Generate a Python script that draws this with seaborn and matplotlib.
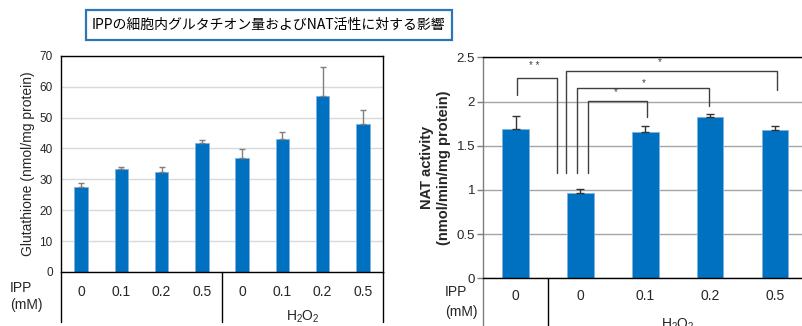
import matplotlib
matplotlib.use("Agg")
import matplotlib.pyplot as plt
import matplotlib.transforms as mtransforms
from matplotlib.patches import Rectangle
import seaborn as sns
import pandas as pd

# ---- data ----
title = "IPPの細胞内グルタチオン量およびNAT活性に対する影響"

gsh_conditions = ["c0", "c0.1", "c0.2", "c0.5", "h0", "h0.1", "h0.2", "h0.5"]
gsh_ipp_labels = ["0", "0.1", "0.2", "0.5", "0", "0.1", "0.2", "0.5"]
gsh_mean = [27.4, 33.2, 32.3, 41.7, 36.9, 43.0, 56.9, 47.9]
gsh_sd = [1.4, 0.9, 1.8, 1.0, 2.8, 2.4, 9.3, 4.5]

nat_conditions = ["c0", "h0", "h0.1", "h0.2", "h0.5"]
nat_ipp_labels = ["0", "0", "0.1", "0.2", "0.5"]
nat_mean = [1.69, 0.96, 1.655, 1.82, 1.675]
nat_sd = [0.15, 0.05, 0.065, 0.04, 0.045]

# significance brackets: (x_left, y_left_end, x_right, y_right_end, y_top, label, label_x, label_y)
nat_brackets = [
    (0.02, 2.07, 0.63, 1.19, 2.27, "* *", 0.29, 2.40),
    (0.78, 1.19, 4.04, 2.13, 2.345, "*", 2.22, 2.45),
    (0.94, 1.19, 2.98, 1.95, 2.156, "*", 1.98, 2.21),
    (1.11, 1.19, 2.03, 1.82, 2.006, "*", 1.54, 2.11),
]

BAR = "#0070C0"
BAR_EDGE = "#7FB2DE"

sns.set_theme(style="white")
plt.rcParams["font.family"] = ["Liberation Sans", "DejaVu Sans"]
plt.rcParams["mathtext.default"] = "regular"

W, H = 802, 326
fig = plt.figure(figsize=(W / 100, H / 100), dpi=100)


def fig_rect(x0, y_top, x1, y_bottom):
    return [x0 / W, 1 - y_bottom / H, (x1 - x0) / W, (y_bottom - y_top) / H]


# ---- title box ----
fig.patches.append(Rectangle((86 / W, 1 - 40 / H), (452 - 86) / W, 30 / H,
                             transform=fig.transFigure, fill=False,
                             edgecolor="#2E75B6", linewidth=1.6))
fig.text(268 / W, 1 - 25 / H, title, ha="center", va="center", fontsize=10,
         family=["Noto Sans CJK JP", "DejaVu Sans"], color="black")

# ---- left: glutathione ----
ax1 = fig.add_axes(fig_rect(61, 55.7, 383, 272))
df1 = pd.DataFrame({"cond": gsh_conditions, "val": gsh_mean})
sns.barplot(data=df1, x="cond", y="val", color=BAR, width=0.33, saturation=1,
            edgecolor=BAR_EDGE, linewidth=0.6, errorbar=None, ax=ax1, zorder=2)
ax1.errorbar(range(len(gsh_mean)), gsh_mean, yerr=[[0] * len(gsh_sd), gsh_sd],
             fmt="none", ecolor="#7f7f7f", elinewidth=1.0, capsize=2.4,
             capthick=1.0, zorder=3)
ax1.set_xlim(-0.5, 7.5)
ax1.set_ylim(0, 70)
ax1.set_yticks(range(0, 71, 10))
ax1.yaxis.grid(True, color="#d9d9d9", linewidth=1.0)
ax1.set_axisbelow(True)
ax1.set_xticks(range(len(gsh_ipp_labels)), gsh_ipp_labels)
ax1.tick_params(axis="x", length=0, pad=9, labelsize=10)
ax1.tick_params(axis="y", length=0, pad=6, labelsize=8.5)
ax1.set_xlabel("")
ax1.set_ylabel("Glutathione (nmol/mg protein)", fontsize=10, labelpad=3)
for s in ax1.spines.values():
    s.set_color("black")
    s.set_linewidth(1.0)

tr1 = mtransforms.blended_transform_factory(ax1.transData, ax1.transAxes)
for xv in (-0.5, 3.5, 7.5):
    ax1.plot([xv, xv], [0, -0.23], color="black", lw=1.0, transform=tr1, clip_on=False)
ax1.text(5.5, -0.205, r"H$_2$O$_2$", transform=tr1, ha="center", va="center", fontsize=10)
fig.text(10 / W, 1 - 288 / H, "IPP", ha="left", va="center", fontsize=10)
fig.text(10 / W, 1 - 305 / H, "(mM)", ha="left", va="center", fontsize=10)

# ---- right: NAT activity ----
ax2 = fig.add_axes(fig_rect(483.3, 57.3, 483.3 + 5 * 64.8, 278.3))
df2 = pd.DataFrame({"cond": nat_conditions, "val": nat_mean})
sns.barplot(data=df2, x="cond", y="val", color=BAR, width=0.41, saturation=1,
            edgecolor=BAR_EDGE, linewidth=0.6, errorbar=None, ax=ax2, zorder=2)
ax2.errorbar(range(len(nat_mean)), nat_mean, yerr=[[0] * len(nat_sd), nat_sd],
             fmt="none", ecolor="#333333", elinewidth=1.0, capsize=2.6,
             capthick=1.0, zorder=3)
ax2.set_xlim(-0.5, 4.5)
ax2.set_ylim(0, 2.5)
ax2.set_yticks([0, 0.5, 1, 1.5, 2, 2.5], ["0", "0.5", "1", "1.5", "2", "2.5"])
ax2.yaxis.grid(True, color="#a6a6a6", linewidth=1.0)
ax2.set_axisbelow(True)
ax2.set_xticks(range(len(nat_ipp_labels)), nat_ipp_labels)
ax2.tick_params(axis="x", length=0, pad=8, labelsize=10)
ax2.tick_params(axis="y", left=True, length=4, width=1, color="#7f7f7f",
                pad=2, labelsize=9.5)
ax2.set_xlabel("")
ax2.set_ylabel("NAT activity\n(nmol/min/mg protein)", fontsize=10.5,
               fontweight="bold", labelpad=4, linespacing=1.25)
ax2.spines["left"].set_color("#7f7f7f")
ax2.spines["bottom"].set_color("black")
ax2.spines["top"].set_color("black")
ax2.spines["right"].set_visible(False)
for s in ax2.spines.values():
    s.set_linewidth(1.0)

for xl, yl, xr, yr, yt, lab, lx, ly in nat_brackets:
    ax2.plot([xl, xl, xr, xr], [yl, yt, yt, yr], color="#404040", lw=1.0,
             zorder=4, clip_on=False)
    ax2.text(lx, ly, lab, ha="center", va="center", fontsize=7, color="#404040")

tr2 = mtransforms.blended_transform_factory(ax2.transData, ax2.transAxes)
for xv in (-0.5, 0.5):
    ax2.plot([xv, xv], [0, -0.25], color="black" if xv > 0 else "#7f7f7f",
             lw=1.0, transform=tr2, clip_on=False)
ax2.text(2.5, -0.172, r"H$_2$O$_2$", transform=tr2, ha="center", va="top", fontsize=10)
fig.text(445 / W, 1 - 292 / H, "IPP", ha="left", va="center", fontsize=10)
fig.text(445 / W, 1 - 312 / H, "(mM)", ha="left", va="center", fontsize=10)

fig.savefig("out.png", dpi=100)
